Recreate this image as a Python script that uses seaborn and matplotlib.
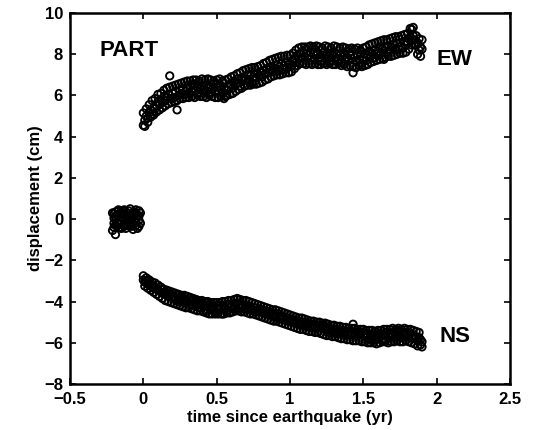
import numpy as np
import pandas as pd
import matplotlib
matplotlib.use("Agg")
import matplotlib.pyplot as plt
import seaborn as sns

# ---- data ----
post_t = [
    0.00, 0.01, 0.02, 0.03, 0.04, 0.05, 0.06, 0.07, 0.08, 0.09,
    0.10, 0.11, 0.12, 0.13, 0.14, 0.15, 0.16, 0.17, 0.18, 0.19,
    0.20, 0.21, 0.22, 0.23, 0.24, 0.25, 0.26, 0.27, 0.28, 0.29,
    0.30, 0.31, 0.32, 0.33, 0.34, 0.35, 0.36, 0.37, 0.38, 0.39,
    0.40, 0.41, 0.42, 0.43, 0.44, 0.45, 0.46, 0.47, 0.48, 0.49,
    0.50, 0.51, 0.52, 0.53, 0.54, 0.55, 0.56, 0.57, 0.58, 0.59,
    0.60, 0.61, 0.62, 0.63, 0.64, 0.65, 0.66, 0.67, 0.68, 0.69,
    0.70, 0.71, 0.72, 0.73, 0.74, 0.75, 0.76, 0.77, 0.78, 0.79,
    0.80, 0.81, 0.82, 0.83, 0.84, 0.85, 0.86, 0.87, 0.88, 0.89,
    0.90, 0.91, 0.92, 0.93, 0.94, 0.95, 0.96, 0.97, 0.98, 0.99,
    1.00, 1.01, 1.02, 1.03, 1.04, 1.05, 1.06, 1.07, 1.08, 1.09,
    1.10, 1.11, 1.12, 1.13, 1.14, 1.15, 1.16, 1.17, 1.18, 1.19,
    1.20, 1.21, 1.22, 1.23, 1.24, 1.25, 1.26, 1.27, 1.28, 1.29,
    1.30, 1.31, 1.32, 1.33, 1.34, 1.35, 1.36, 1.37, 1.38, 1.39,
    1.40, 1.41, 1.42, 1.43, 1.44, 1.45, 1.46, 1.47, 1.48, 1.49,
    1.50, 1.51, 1.52, 1.53, 1.54, 1.55, 1.56, 1.57, 1.58, 1.59,
    1.60, 1.61, 1.62, 1.63, 1.64, 1.65, 1.66, 1.67, 1.68, 1.69,
    1.70, 1.71, 1.72, 1.73, 1.74, 1.75, 1.76, 1.77, 1.78, 1.79,
    1.80, 1.81, 1.82, 1.83, 1.84, 1.85, 1.86, 1.87, 1.88, 1.89,
    1.90,
]

# EW component, first solution per epoch
ew_cm = [
    4.55, 4.80, 5.00, 4.90, 5.15, 5.30, 5.10, 5.40, 5.35, 5.50,
    5.70, 5.55, 5.80, 5.65, 5.95, 5.75, 5.90, 6.05, 6.95, 5.85,
    6.10, 5.90, 6.20, 5.30, 6.00, 6.25, 6.10, 6.35, 6.05, 6.20,
    6.30, 6.10, 6.45, 6.20, 6.35, 6.55, 6.25, 6.40, 6.15, 6.30,
    6.45, 6.30, 6.20, 6.50, 6.35, 6.15, 6.40, 6.30, 6.55, 6.20,
    6.40, 6.25, 6.45, 6.30, 6.10, 6.35, 5.95, 6.25, 6.40, 6.55,
    6.50, 6.35, 6.70, 6.55, 6.80, 6.60, 6.45, 6.85, 6.70, 6.90,
    6.80, 7.00, 6.75, 6.95, 6.60, 6.90, 7.10, 6.85, 7.05, 6.95,
    7.15, 6.90, 7.20, 7.05, 7.30, 7.10, 7.25, 7.40, 7.15, 7.35,
    7.30, 7.50, 7.20, 7.40, 7.55, 7.30, 7.45, 7.60, 7.35, 7.50,
    7.55, 7.40, 7.65, 7.80, 7.60, 7.95, 7.75, 8.05, 7.85, 8.10,
    7.90, 8.05, 7.80, 7.95, 8.10, 7.85, 8.00, 7.75, 7.95, 8.05,
    7.85, 7.65, 7.95, 8.10, 7.80, 8.00, 7.90, 8.05, 7.70, 7.95,
    8.10, 7.85, 8.00, 7.75, 7.95, 7.60, 7.90, 8.05, 7.80, 7.85,
    7.70, 7.95, 7.80, 7.10, 7.85, 7.65, 7.95, 7.75, 7.90, 7.55,
    7.85, 8.05, 7.70, 7.95, 8.15, 7.90, 8.05, 7.80, 8.20, 8.00,
    8.15, 8.35, 8.05, 8.25, 7.75, 8.30, 8.10, 8.40, 8.20, 8.35,
    8.30, 8.45, 8.20, 8.50, 8.35, 8.55, 8.40, 8.30, 8.60, 8.45,
    8.60, 8.75, 8.85, 9.20, 8.90, 8.70, 8.45, 8.55, 8.20, 8.35,
    8.25,
]

# EW component, second solution per epoch
ew_cm_b = [
    5.15, 4.50, 5.35, 4.70, 5.55, 4.95, 5.75, 5.05, 5.85, 5.20,
    6.05, 5.30, 6.10, 5.40, 6.25, 5.50, 6.35, 5.60, 6.40, 5.65,
    6.45, 5.70, 6.50, 5.75, 6.55, 5.85, 6.60, 5.85, 6.65, 5.90,
    6.70, 5.90, 6.70, 5.95, 6.75, 5.90, 6.75, 6.00, 6.70, 5.95,
    6.80, 5.95, 6.75, 5.90, 6.80, 6.00, 6.75, 5.95, 6.70, 5.90,
    6.75, 5.90, 6.80, 5.95, 6.70, 5.85, 6.75, 6.00, 6.80, 6.05,
    6.90, 6.10, 6.95, 6.20, 7.05, 6.30, 7.10, 6.35, 7.20, 6.45,
    7.25, 6.50, 7.30, 6.50, 7.35, 6.55, 7.35, 6.55, 7.40, 6.60,
    7.45, 6.65, 7.55, 6.75, 7.60, 6.80, 7.70, 6.90, 7.75, 6.95,
    7.80, 7.00, 7.85, 7.00, 7.90, 7.05, 7.90, 7.10, 7.95, 7.10,
    7.95, 7.15, 8.05, 7.30, 8.20, 7.45, 8.30, 7.55, 8.35, 7.55,
    8.35, 7.50, 8.35, 7.55, 8.40, 7.50, 8.35, 7.55, 8.40, 7.50,
    8.35, 7.50, 8.30, 7.55, 8.40, 7.50, 8.35, 7.55, 8.30, 7.50,
    8.40, 7.50, 8.35, 7.55, 8.30, 7.45, 8.35, 7.50, 8.30, 7.40,
    8.25, 7.45, 8.30, 7.40, 8.25, 7.35, 8.30, 7.45, 8.20, 7.40,
    8.30, 7.45, 8.35, 7.50, 8.45, 7.60, 8.50, 7.65, 8.55, 7.70,
    8.60, 7.75, 8.65, 7.80, 8.70, 7.85, 8.70, 7.90, 8.75, 7.90,
    8.80, 7.95, 8.85, 8.00, 8.85, 8.05, 8.90, 8.05, 8.95, 8.10,
    9.00, 8.25, 9.25, 8.45, 9.30, 8.45, 8.90, 8.00, 8.75, 7.90,
    8.70,
]

# NS component, first solution per epoch
ns_cm = [
    -2.95, -3.05, -3.00, -3.15, -3.10, -3.25, -3.20, -3.35, -3.30, -3.40,
    -3.45, -3.50, -3.40, -3.60, -3.55, -3.65, -3.60, -3.75, -3.70, -3.65,
    -3.80, -3.75, -3.90, -3.70, -4.00, -3.85, -3.95, -3.80, -4.05, -3.90,
    -4.00, -3.85, -4.10, -4.15, -3.95, -4.05, -4.20, -4.00, -4.30, -4.10,
    -4.15, -4.25, -4.05, -4.45, -4.20, -4.30, -4.10, -4.35, -4.25, -4.50,
    -4.30, -4.40, -4.20, -4.35, -4.60, -4.25, -4.30, -4.45, -4.15, -4.30,
    -4.20, -4.35, -4.25, -4.10, -3.85, -4.30, -4.15, -4.25, -4.20, -4.35,
    -4.20, -4.30, -4.40, -4.25, -4.35, -4.45, -4.30, -4.50, -4.40, -4.35,
    -4.50, -4.40, -4.55, -4.45, -4.60, -4.50, -4.65, -4.55, -4.70, -4.60,
    -4.65, -4.75, -4.60, -4.80, -4.70, -4.85, -4.75, -4.90, -4.80, -4.95,
    -4.85, -4.90, -5.00, -4.90, -5.05, -4.95, -5.10, -5.00, -5.05, -5.15,
    -5.00, -5.10, -5.20, -5.05, -5.15, -5.25, -5.10, -5.20, -5.30, -5.15,
    -5.25, -5.20, -5.30, -5.15, -5.35, -5.25, -5.40, -5.30, -5.35, -5.45,
    -5.35, -5.40, -5.50, -5.35, -5.45, -5.55, -5.40, -5.50, -5.45, -5.60,
    -5.50, -5.45, -5.60, -5.10, -5.55, -5.50, -5.65, -5.55, -5.60, -5.50,
    -5.60, -5.70, -5.55, -5.65, -5.80, -5.60, -5.70, -5.65, -5.85, -5.60,
    -5.65, -5.55, -5.70, -5.60, -5.90, -5.65, -5.50, -5.60, -5.75, -5.55,
    -5.60, -5.50, -5.70, -5.65, -5.45, -5.60, -5.75, -5.50, -5.65, -5.55,
    -5.60, -5.70, -5.55, -5.75, -5.65, -5.80, -5.70, -5.90, -5.75, -5.85,
    -5.95,
]

# NS component, second solution per epoch
ns_cm_b = [
    -2.75, -3.25, -2.85, -3.35, -2.95, -3.45, -3.05, -3.55, -3.10, -3.65,
    -3.20, -3.75, -3.30, -3.85, -3.40, -3.95, -3.45, -4.00, -3.50, -4.05,
    -3.55, -4.10, -3.60, -4.15, -3.65, -4.20, -3.70, -4.25, -3.70, -4.30,
    -3.75, -4.30, -3.80, -4.35, -3.85, -4.40, -3.90, -4.45, -3.95, -4.45,
    -3.95, -4.50, -4.00, -4.55, -4.00, -4.60, -4.05, -4.60, -4.05, -4.60,
    -4.05, -4.60, -4.05, -4.60, -4.00, -4.60, -4.00, -4.55, -3.95, -4.55,
    -3.95, -4.50, -3.90, -4.45, -3.90, -4.45, -3.90, -4.50, -3.95, -4.50,
    -3.95, -4.55, -4.00, -4.60, -4.05, -4.60, -4.10, -4.65, -4.15, -4.70,
    -4.20, -4.75, -4.25, -4.80, -4.30, -4.85, -4.35, -4.90, -4.40, -4.95,
    -4.40, -4.95, -4.45, -5.00, -4.50, -5.05, -4.55, -5.10, -4.60, -5.15,
    -4.65, -5.20, -4.70, -5.25, -4.75, -5.30, -4.80, -5.35, -4.80, -5.35,
    -4.85, -5.40, -4.90, -5.45, -4.95, -5.45, -4.95, -5.50, -5.00, -5.50,
    -5.00, -5.55, -5.05, -5.60, -5.05, -5.65, -5.10, -5.65, -5.15, -5.70,
    -5.15, -5.70, -5.20, -5.75, -5.20, -5.80, -5.25, -5.80, -5.25, -5.85,
    -5.30, -5.85, -5.30, -5.90, -5.30, -5.90, -5.35, -5.90, -5.35, -5.95,
    -5.35, -5.95, -5.40, -6.00, -5.40, -6.00, -5.40, -6.00, -5.45, -6.05,
    -5.40, -6.00, -5.40, -5.95, -5.35, -5.95, -5.35, -6.00, -5.35, -5.95,
    -5.30, -5.95, -5.35, -5.90, -5.30, -5.95, -5.35, -5.95, -5.30, -5.90,
    -5.35, -5.95, -5.35, -6.00, -5.40, -6.05, -5.45, -6.15, -5.50, -6.10,
    -6.20,
]

# pre-earthquake positions
pre_t = [-0.21, -0.20, -0.20, -0.19, -0.19, -0.18, -0.17, -0.17, -0.16, -0.15,
         -0.15, -0.14, -0.13, -0.13, -0.12, -0.11, -0.11, -0.10, -0.09, -0.09,
         -0.08, -0.07, -0.07, -0.06, -0.05, -0.05, -0.04, -0.03, -0.03, -0.02]
pre_cm = [-0.55, -0.20, 0.25, -0.75, 0.10, -0.35, 0.40, -0.10, 0.20, -0.45,
          0.35, 0.05, -0.25, 0.45, 0.15, -0.30, 0.30, 0.00, 0.50, -0.20,
          0.20, -0.50, 0.10, 0.35, -0.15, 0.25, -0.45, 0.15, -0.05, 0.30]
pre_cm_b = [0.30, 0.05, -0.40, 0.35, -0.30, 0.20, -0.25, 0.45, -0.40, 0.10,
            -0.10, 0.40, 0.25, -0.35, -0.45, 0.10, -0.15, 0.40, -0.30, 0.15,
            -0.35, 0.30, -0.25, -0.10, 0.45, -0.30, 0.20, -0.35, 0.40, -0.20]

x_ticks = [-0.5, 0, 0.5, 1, 1.5, 2, 2.5]
x_tick_labels = ["\u22120.5", "0", "0.5", "1", "1.5", "2", "2.5"]
y_ticks = [-8, -6, -4, -2, 0, 2, 4, 6, 8, 10]
y_tick_labels = ["\u22128", "\u22126", "\u22124", "\u22122", "0", "2", "4", "6", "8", "10"]

station = "PART"
comp_labels = ["EW", "NS"]

df = pd.DataFrame({
    "t": list(pre_t) * 2 + list(post_t) * 4,
    "d": list(pre_cm) + list(pre_cm_b) + list(ew_cm) + list(ew_cm_b)
         + list(ns_cm) + list(ns_cm_b),
})

sns.set_style("ticks")
plt.rcParams["font.family"] = ["Liberation Sans", "DejaVu Sans"]
plt.rcParams["text.color"] = "black"
plt.rcParams["axes.labelcolor"] = "black"

fig = plt.figure(figsize=(5.36, 4.30), dpi=100)
ax = fig.add_axes([70 / 536, 46 / 430, 440 / 536, 371 / 430])

sns.scatterplot(data=df, x="t", y="d", ax=ax, marker="o", s=28,
                facecolors="none", edgecolor="black", linewidth=1.35,
                legend=False)

ax.set_xlim(-0.5, 2.5)
ax.set_ylim(-8, 10)
ax.set_xticks(x_ticks)
ax.set_xticklabels(x_tick_labels)
ax.set_yticks(y_ticks)
ax.set_yticklabels(y_tick_labels)

for sp in ax.spines.values():
    sp.set_visible(True)
    sp.set_linewidth(1.8)
    sp.set_color("black")

ax.tick_params(direction="in", length=4, width=1.2, top=True, right=True,
               labelsize=12, colors="black")
ax.tick_params(axis="x", pad=6)
ax.tick_params(axis="y", pad=5)
for lab in ax.get_xticklabels() + ax.get_yticklabels():
    lab.set_fontweight("bold")

ax.set_xlabel("time since earthquake (yr)", fontsize=12, fontweight="bold", labelpad=2)
ax.set_ylabel("displacement (cm)", fontsize=12, fontweight="bold", labelpad=1)

ax.text(-0.30, 8.2, station, fontsize=16, fontweight="bold", va="center", ha="left")
ax.text(2.0, 7.75, comp_labels[0], fontsize=16, fontweight="bold", va="center", ha="left")
ax.text(2.02, -5.7, comp_labels[1], fontsize=16, fontweight="bold", va="center", ha="left")

fig.savefig("out.png", dpi=100)
